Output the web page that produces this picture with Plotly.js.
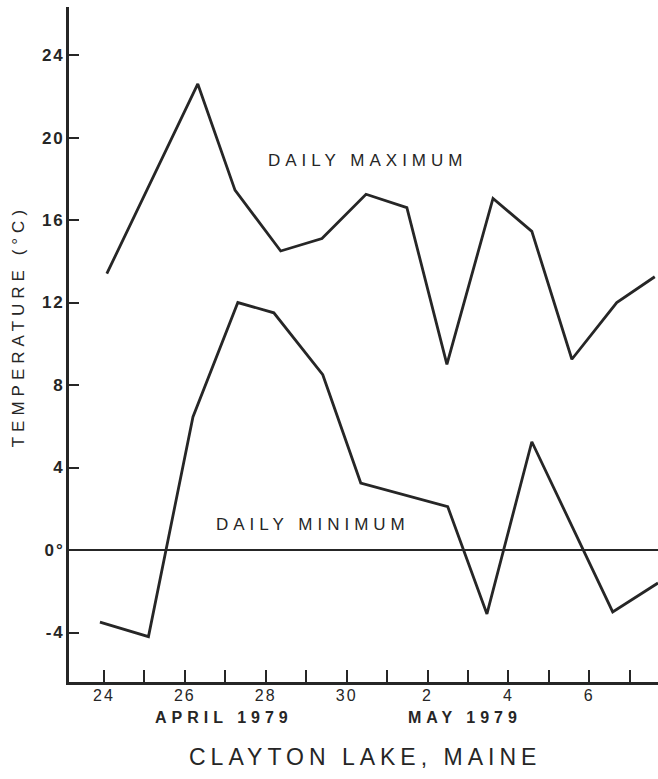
<!DOCTYPE html>
<html>
<head>
<meta charset="utf-8">
<script src="https://cdn.plot.ly/plotly-3.0.1.min.js"></script>
<style>
  html, body { margin: 0; padding: 0; background: #fff; }
  #chart { width: 658px; height: 779px; }
  /* the lettering of this figure is wide and open */
  .xtick text, .ytick text { letter-spacing: 2px; }
  .annotation-text { letter-spacing: 5px; }
</style>
</head>
<body>
<div id="chart"></div>
<script>
// Days are counted from 1 April (May 1 = 31); readings fall at the time of day they were taken.
const maxDay  = [24.07, 26.32, 27.24, 28.37, 29.39, 30.48, 31.49, 32.48, 33.62, 34.58, 35.57, 36.68, 37.62];
const maxTemp = [13.4, 22.6, 17.45, 14.5, 15.1, 17.25, 16.6, 9.0, 17.05, 15.45, 9.25, 12.0, 13.25];

const minDay  = [23.90, 25.10, 26.20, 27.31, 28.20, 29.41, 30.35, 32.50, 33.47, 34.58, 36.58, 37.70];
const minTemp = [-3.5, -4.2, 6.45, 12.0, 11.5, 8.5, 3.25, 2.1, -3.1, 5.25, -3.0, -1.6];

// One tick per day, labelled every second day
const dayTicks   = [24, 25, 26, 27, 28, 29, 30, 31, 32, 33, 34, 35, 36, 37];
const dayLabels  = ['24', '', '26', '', '28', '', '30', '', '2', '', '4', '', '6', ''];

const tempTicks  = [-4, 0, 4, 8, 12, 16, 20, 24];
const tempLabels = ['-4', '0°', '4', '8', '12', '16', '20', '24'];

const ink = '#262626';
const font = 'Liberation Sans, Arial, sans-serif';

const lineStyle = { color: ink, width: 2.8 };

const traces = [
  { x: maxDay, y: maxTemp, type: 'scatter', mode: 'lines', line: lineStyle, name: 'DAILY MAXIMUM', hoverinfo: 'x+y' },
  { x: minDay, y: minTemp, type: 'scatter', mode: 'lines', line: lineStyle, name: 'DAILY MINIMUM', hoverinfo: 'x+y' }
];

function note(text, x, y, size, extra) {
  return Object.assign({
    text: text, x: x, y: y, xref: 'paper', yref: 'paper',
    xanchor: 'center', yanchor: 'middle', showarrow: false,
    font: { family: font, size: size, color: ink }
  }, extra || {});
}

const layout = {
  width: 658,
  height: 779,
  margin: { l: 69, r: 0, t: 7, b: 97 },
  paper_bgcolor: '#ffffff',
  plot_bgcolor: '#ffffff',
  showlegend: false,
  font: { family: font, color: ink },
  xaxis: {
    range: [23.135, 37.70],
    tickmode: 'array',
    tickvals: dayTicks,
    ticktext: dayLabels,
    ticks: 'inside',
    ticklen: 12,
    tickwidth: 2,
    tickcolor: ink,
    ticklabelstandoff: -3,
    showline: true,
    linecolor: ink,
    linewidth: 2.8,
    showgrid: false,
    zeroline: false,
    tickfont: { family: font, size: 16, color: ink }
  },
  yaxis: {
    range: [-6.4, 26.33],
    tickmode: 'array',
    tickvals: tempTicks,
    ticktext: tempLabels,
    ticks: 'inside',
    ticklen: 10,
    tickwidth: 2,
    tickcolor: ink,
    ticklabelstandoff: -2,
    showline: true,
    linecolor: ink,
    linewidth: 2.8,
    showgrid: false,
    zeroline: true,
    zerolinecolor: ink,
    zerolinewidth: 2,
    tickfont: { family: font, size: 17, color: ink, weight: 'bold' }
  },
  annotations: [
    note('DAILY MAXIMUM', 0.5076, 0.773, 17),
    note('DAILY MINIMUM', 0.414, 0.2326, 17),
    note('TEMPERATURE (°C)', -0.0866, 0.527, 17, { textangle: -90 }),
    note('APRIL 1979', 0.263, -0.0533, 16, { font: { family: font, size: 16, color: ink, weight: 'bold' } }),
    note('MAY 1979', 0.672, -0.0533, 16, { font: { family: font, size: 16, color: ink, weight: 'bold' } }),
    note('CLAYTON LAKE, MAINE', 0.5025, -0.111, 23)
  ]
};

Plotly.newPlot('chart', traces, layout, { displayModeBar: false, staticPlot: true });
</script>
</body>
</html>
